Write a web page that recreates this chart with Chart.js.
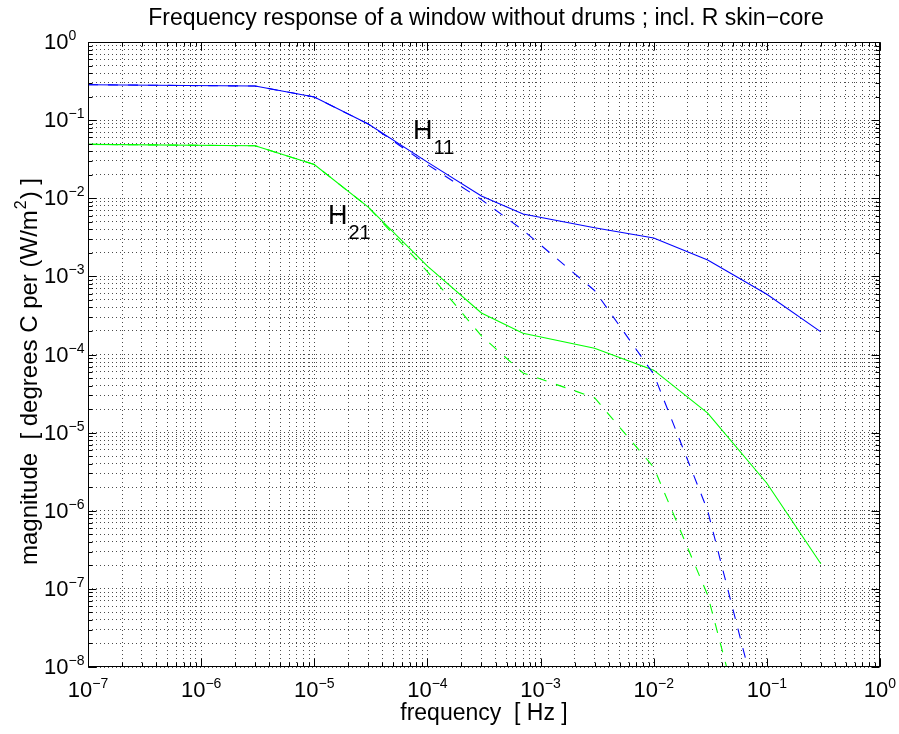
<!DOCTYPE html>
<html>
<head>
<meta charset="utf-8">
<script src="https://cdn.jsdelivr.net/npm/chart.js@4.4.1/dist/chart.umd.min.js"></script>
<style>
  body { margin: 0; background: #fff; }
</style>
</head>
<body>
<canvas id="myChart" width="899" height="734"></canvas>
<script>
// frequencies [Hz] where the response was evaluated
const freqs = [1e-7, 3e-6, 1e-5, 3e-5, 1e-4, 3e-4, 7e-4, 3e-3, 1e-2, 3e-2, 1e-1, 3e-1];
// solid: incl. R skin-core, dashed: without
const h11 = [0.284, 0.273, 0.198, 0.089, 0.029, 0.0107, 0.0063, 0.0042, 0.0031, 0.00162, 5.9e-4, 1.95e-4];
const h11Dashed = [0.284, 0.273, 0.198, 0.089, 0.027, 0.0096, 0.0039, 6.6e-4, 5.6e-5, 1.0e-6, 1.1e-9, null];
const h21 = [0.049, 0.047, 0.027, 0.0077, 1.35e-3, 3.4e-4, 1.87e-4, 1.2e-4, 6.3e-5, 1.78e-5, 2.25e-6, 2.1e-7];
const h21Dashed = [0.049, 0.047, 0.027, 0.0077, 1.15e-3, 1.73e-4, 5.8e-5, 2.8e-5, 3.6e-6, 8.3e-8, 1.1e-10, null];

// tick labels are powers of ten
const xTickExps = [-7, -6, -5, -4, -3, -2, -1, 0];
const yTickExps = [-8, -7, -6, -5, -4, -3, -2, -1, 0];

const FONT = '"Liberation Sans", Arial, Helvetica, sans-serif';

function gridValues(exps) {
    const out = [];
    for (let i = 0; i < exps.length - 1; i++) {
        for (let k = 1; k <= 9; k++) out.push(k * Math.pow(10, exps[i]));
    }
    out.push(Math.pow(10, exps[exps.length - 1]));
    return out;
}
const xGrid = gridValues(xTickExps);
const yGrid = gridValues(yTickExps);

function toPoints(vals) {
    return freqs.map((f, i) => ({ x: f, y: vals[i] })).filter(p => p.y !== null);
}

function isMajor(v) {
    const l = Math.log10(v);
    return Math.abs(l - Math.round(l)) < 1e-9;
}

function drawPow(ctx, e, x, y, align) {
    const base = '10';
    const exp = e < 0 ? '\u2212' + (-e) : String(e);
    ctx.font = '22px ' + FONT;
    const w1 = ctx.measureText(base).width;
    ctx.font = '14px ' + FONT;
    const w2 = ctx.measureText(exp).width;
    const x0 = align === 'center' ? x - (w1 + w2) / 2 : x;
    ctx.textAlign = 'left';
    ctx.textBaseline = 'alphabetic';
    ctx.font = '22px ' + FONT;
    ctx.fillText(base, x0, y);
    ctx.font = '14px ' + FONT;
    ctx.fillText(exp, x0 + w1, y - 9);
}

function drawSub(ctx, main, sub, x, y) {
    ctx.textAlign = 'left';
    ctx.textBaseline = 'alphabetic';
    ctx.font = '27px ' + FONT;
    ctx.fillText(main, x, y);
    const w = ctx.measureText(main).width;
    ctx.font = '20px ' + FONT;
    ctx.fillText(sub, x + w + 1, y + 15);
}

const decorations = {
    id: 'decorations',
    afterDraw(chart) {
        const ctx = chart.ctx;
        const a = chart.chartArea;
        const xs = chart.scales.x, ys = chart.scales.y;
        const L = Math.round(a.left) + 0.5, R = Math.round(a.right) - 0.5;
        const T = Math.round(a.top) + 0.5, B = Math.round(a.bottom) - 0.5;
        ctx.save();
        ctx.strokeStyle = '#000';
        ctx.lineWidth = 1;
        ctx.setLineDash([]);
        ctx.strokeRect(L, T, R - L, B - T);

        // inward tick marks on all four sides
        ctx.beginPath();
        xGrid.forEach(v => {
            const px = Math.round(xs.getPixelForValue(v)) + 0.5;
            const len = isMajor(v) ? 8 : 4;
            ctx.moveTo(px, B); ctx.lineTo(px, B - len);
            ctx.moveTo(px, T); ctx.lineTo(px, T + len);
        });
        yGrid.forEach(v => {
            const py = Math.round(ys.getPixelForValue(v)) + 0.5;
            const len = isMajor(v) ? 8 : 4;
            ctx.moveTo(L, py); ctx.lineTo(L + len, py);
            ctx.moveTo(R, py); ctx.lineTo(R - len, py);
        });
        ctx.stroke();

        ctx.fillStyle = '#000';
        xTickExps.forEach(e => {
            drawPow(ctx, e, xs.getPixelForValue(Math.pow(10, e)), 697, 'center');
        });
        yTickExps.forEach(e => {
            drawPow(ctx, e, 44, ys.getPixelForValue(Math.pow(10, e)) + 7, 'left');
        });

        // title
        ctx.font = '23px ' + FONT;
        ctx.textAlign = 'center';
        ctx.textBaseline = 'alphabetic';
        ctx.fillText('Frequency response of a window without drums ; incl. R skin\u2212core', 486, 25);
        // x label
        ctx.fillText('frequency  [ Hz ]', 484, 720);

        // y label (rotated, with superscript)
        ctx.save();
        ctx.translate(37, 565);
        ctx.rotate(-Math.PI / 2);
        ctx.textAlign = 'left';
        const p1 = 'magnitude  [ degrees C per (W/m';
        ctx.font = '24px ' + FONT;
        ctx.fillText(p1, 0, 0);
        let w = ctx.measureText(p1).width;
        ctx.font = '16px ' + FONT;
        ctx.fillText('2', w + 1, -11);
        w += ctx.measureText('2').width + 2;
        ctx.font = '24px ' + FONT;
        ctx.fillText(') ]', w, 0);
        ctx.restore();

        // curve labels
        drawSub(ctx, 'H', '11', 413, 139);
        drawSub(ctx, 'H', '21', 328, 224);
        ctx.restore();
    }
};

const ctx = document.getElementById('myChart').getContext('2d');

const myChart = new Chart(ctx, {
    type: 'scatter',
    data: {
        datasets: [
            { label: 'H21 without', data: toPoints(h21Dashed), borderColor: '#00ff00', borderDash: [10, 10] },
            { label: 'H11 without', data: toPoints(h11Dashed), borderColor: '#0000ff', borderDash: [10, 10] },
            { label: 'H21', data: toPoints(h21), borderColor: '#00ff00' },
            { label: 'H11', data: toPoints(h11), borderColor: '#0000ff' }
        ]
    },
    options: {
        responsive: false,
        maintainAspectRatio: false,
        animation: false,
        showLine: true,
        layout: { padding: { left: 88, right: 19, top: 42, bottom: 67 } },
        elements: {
            line: { borderWidth: 1.1, tension: 0, fill: false },
            point: { radius: 0, hoverRadius: 0 }
        },
        scales: {
            x: {
                type: 'logarithmic',
                min: 1e-7,
                max: 1,
                afterBuildTicks: s => { s.ticks = xGrid.map(v => ({ value: v })); },
                afterFit: s => { s.height = 0; },
                ticks: { display: false },
                grid: { color: 'rgba(0,0,0,0.7)', lineWidth: 1, drawTicks: false },
                border: { display: false, dash: [1, 3] }
            },
            y: {
                type: 'logarithmic',
                min: 1e-8,
                max: 1,
                afterBuildTicks: s => { s.ticks = yGrid.map(v => ({ value: v })); },
                afterFit: s => { s.width = 0; },
                ticks: { display: false },
                grid: { color: 'rgba(0,0,0,0.7)', lineWidth: 1, drawTicks: false },
                border: { display: false, dash: [1, 3] }
            }
        },
        plugins: {
            legend: { display: false },
            tooltip: { enabled: false },
            title: { display: false }
        }
    },
    plugins: [decorations]
});
</script>
</body>
</html>
